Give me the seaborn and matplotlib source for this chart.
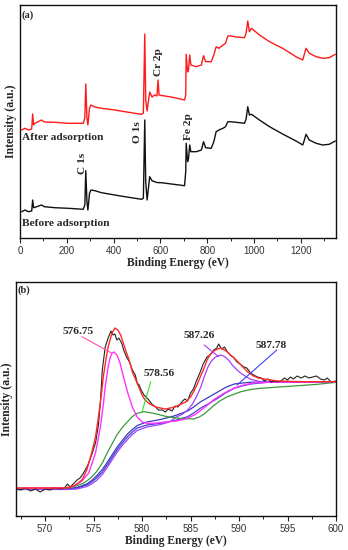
import numpy as np
import pandas as pd
import matplotlib
matplotlib.use("Agg")
import matplotlib.pyplot as plt
from matplotlib.ticker import MultipleLocator
import seaborn as sns

# ---------------- Panel (a): XPS survey ----------------
survey_ev = [7, 21, 36, 50, 54, 58, 64, 92, 104, 149, 206, 270, 277, 281, 286, 290, 297, 303, 320, 348,
             405, 448, 519, 527, 533, 537, 543, 554, 564, 575, 585, 590, 594, 604, 647, 703, 708, 710, 716,
             720, 725, 730, 753, 775, 784, 793, 817, 828, 838, 850, 867, 878, 888, 895, 924, 959, 966, 973,
             980, 989, 1023, 1066, 1122, 1179, 1208, 1215, 1222, 1236, 1265, 1293, 1321, 1347]
# pixel-row readings (converted to intensity below)
after_row = [130, 128.3, 130, 129, 114, 125, 123.3, 120, 122, 122.3, 123.3, 123.3, 118, 84, 118, 125, 108, 105,
             107, 108.3, 110, 111.7, 114.3, 113, 34, 100, 111, 92, 97, 95, 96, 80, 95, 95.5, 97, 100, 95, 54.3,
             72, 70, 55, 65, 66.7, 65, 55.7, 61.7, 61.7, 55, 46.7, 48.3, 45, 43.3, 36, 35.7, 37, 37.7, 33, 21,
             31.7, 28.3, 35, 41.7, 48.3, 56.7, 60, 54, 48.3, 53.3, 56.7, 58.3, 57.7, 54.3]
before_row = [211.7, 210, 211.7, 211, 200, 207.7, 207.3, 205, 206.7, 207.7, 208.3, 209.3, 205, 170.7, 201.7,
              210, 193.3, 190, 190.7, 192.7, 195, 196.7, 199.3, 198.3, 120, 181.7, 200, 176.7, 180.7, 181.7,
              182.5, 182.5, 182.7, 182.7, 184, 185.7, 171.7, 143.3, 161.7, 158.3, 145, 151.7, 151.7, 150,
              141.7, 147.7, 148.3, 141.7, 131.7, 130, 128.3, 126.7, 121.7, 121.7, 122.3, 123.3, 119, 106.7,
              115, 114.3, 120, 126.7, 134, 141, 145, 140, 134.3, 140, 143.3, 145, 144.3, 141]
after_int = [238 - v for v in after_row]
before_int = [238 - v for v in before_row]

survey_labels = ["C 1s", "O 1s", "Cr 2p", "Fe 2p"]
survey_label_ev = [265, 500, 593, 721]
survey_label_int = [74.7, 106, 176, 111]

# ---------------- Panel (b): Cr 2p high resolution ----------------
raw_ev = [567.0, 567.5, 568.0, 568.5, 569.0, 569.5, 570.0, 570.5, 571.0, 571.5, 572.0, 572.3, 572.6, 573.0,
          573.3, 573.6, 573.9, 574.2, 574.5, 574.8, 575.2, 575.5, 575.7, 575.9, 576.2, 576.5, 576.8, 577.0,
          577.2, 577.4, 577.6, 577.9, 578.1, 578.4, 578.7, 579.0, 579.3, 579.5, 579.7, 579.9, 580.2, 580.5,
          580.7, 581.0, 581.4, 581.7, 582.1, 582.4, 582.7, 583.1, 583.4, 583.7, 584.1, 584.4, 584.7, 585.0,
          585.3, 585.6, 586.0, 586.3, 586.7, 587.0, 587.4, 587.7, 587.9, 588.2, 588.5, 588.8, 589.1, 589.4,
          589.8, 590.1, 590.5, 590.8, 591.2, 591.5, 591.9, 592.3, 592.6, 593.0, 593.3, 593.7, 594.0, 594.3,
          594.7, 595.0, 595.3, 595.6, 596.0, 596.4, 596.8, 597.2, 597.6, 598.0, 598.4, 598.8, 599.1, 599.5,
          600.0]
raw_row = [489, 490, 488, 491, 489, 492, 489, 490, 488, 489, 488, 484, 487, 483, 480, 478, 474, 469, 463, 455,
           443, 425, 403, 370, 347, 338, 331, 335, 334, 340, 338, 343, 350, 357, 362, 370, 375, 383, 385, 390,
           395, 398, 400, 404, 407, 410, 410, 412, 409, 411, 406, 407, 402, 399, 401, 393, 389, 381, 372, 364,
           357, 355, 350, 348, 344, 349, 347, 352, 355, 357, 362, 364, 367, 368, 373, 375, 377, 378, 381, 379,
           382, 381, 382, 381, 378, 380, 377, 379, 376, 378, 376, 378, 377, 376, 379, 380, 378, 382, 381]

env_ev = [567, 572.1, 573.0, 573.8, 574.3, 574.8, 575.2, 575.5, 575.8, 576.0, 576.3, 576.5, 576.9, 577.2,
          577.5, 577.8, 578.0, 578.3, 578.7, 579.0, 579.4, 579.7, 580.0, 580.3, 580.8, 581.4, 582.4, 583.4,
          584.5, 585.0, 585.3, 585.7, 586.0, 586.4, 586.7, 587.0, 587.4, 587.8, 588.1, 588.5, 588.8, 589.2,
          589.5, 589.9, 590.2, 590.6, 590.9, 591.5, 592.0, 592.6, 593.3, 594.0, 596.4, 600]
env_row = [488, 488, 486, 480, 470, 453, 437, 417, 395, 377, 358, 347, 333, 328, 330, 335, 341, 350, 361, 372,
           381, 388, 395, 400, 404, 407, 409, 407, 402, 397, 392, 384, 377, 368, 360, 355, 351, 349, 348, 350,
           352, 356, 358, 362, 365, 369, 372, 376, 378, 379, 380, 381, 381.7, 381.7]

p1_ev = [567, 572.1, 573.0, 573.8, 574.5, 575.2, 575.7, 576.0, 576.2, 576.5, 576.7, 576.9, 577.1, 577.4,
         577.7, 577.9, 578.2, 578.5, 578.8, 579.0, 579.5, 580.0, 580.7, 581.5, 582.4, 583.5, 584.5, 585.5,
         586.5, 587.5, 588.5, 589.5, 590.5, 591.5, 593, 596, 600]
p1_row = [488, 488, 486, 481, 473, 453, 427, 405, 387, 367, 358, 353, 352, 355, 362, 370, 381, 392, 401, 407,
          417, 422, 423.5, 423, 422, 421, 419, 414.5, 407, 399, 393, 388, 385, 383, 382.3, 381.8, 381.7]

p2_ev = [567, 572.2, 573.2, 574.0, 574.7, 575.3, 575.9, 576.4, 576.9, 577.4, 578.0, 578.5, 579.0, 579.5,
         580.2, 581.2, 582.6, 584.0, 585.3, 585.9, 586.4, 587.0, 587.4, 588.1, 588.8, 590.2, 591.2, 592.2,
         594.6, 596.4, 598.1, 600]
p2_row = [488.5, 488.3, 486, 483, 478, 471.7, 463, 453, 444, 435, 427, 421.7, 416.5, 413.3, 411.7, 413.3,
          416.7, 418.5, 419, 417, 414, 409, 405.5, 400.5, 396.7, 391.7, 389.5, 388.3, 386.7, 385.5, 384.3,
          382.3]

bg_ev = [567, 572.2, 573.3, 574.3, 574.8, 575.3, 575.9, 576.4, 576.9, 577.4, 578.0, 578.5, 579.0, 579.5,
         580.5, 581.9, 583.3, 584.7, 585.4, 586.0, 586.9, 587.8, 588.6, 589.5, 590.4, 591.2, 592.9, 596.4, 600]
p4_row = [489, 489, 487.5, 484, 480.5, 476, 469.5, 462.5, 455, 447.5, 440, 434, 429.5, 425.5, 422, 419.5,
          416, 411, 406.5, 402, 397, 392, 387.5, 384, 383, 382.3, 381.7, 381.7, 381.7]
bgm_row = [489, 489, 488, 485, 482, 478, 472, 465, 457.5, 450, 442.5, 436.7, 432, 428, 425, 423.3, 420.7,
           416.7, 412.5, 408.3, 403.5, 398.3, 393, 388.3, 385.8, 384, 382.3, 381.7, 381.7]

p3_ev = [567, 572.2, 573.3, 574.3, 574.8, 575.3, 575.9, 576.4, 576.9, 577.4, 578.0, 578.5, 579.0, 579.5,
         580.5, 581.9, 582.8, 583.6, 584.2, 584.7, 585.2, 585.7, 586.1, 586.4, 586.8, 587.1, 587.5, 587.8,
         588.1, 588.4, 588.7, 589.0, 589.3, 589.8, 590.2, 590.7, 591.2, 592.2, 593.6, 596.4, 600]
p3_row = [489.5, 489.5, 489, 486.5, 484, 480.5, 474.5, 467.5, 460, 452.5, 445, 439.5, 434.5, 430.5, 427,
          424.5, 422, 416.7, 414, 410, 404, 395, 386, 377, 367, 361.7, 357.5, 356, 355, 356, 358, 361, 365,
          370, 373.3, 376.5, 379.3, 381.7, 382.3, 382.3, 381.7]

peak_labels = ["576.75", "578.56", "587.26", "587.78"]
peak_label_ev = [573.4, 581.8, 585.9, 593.3]
peak_label_int = [184, 143, 180, 170]
leader_ev = [(573.8, 576.9), (580.9, 580.0), (586.4, 587.9), (593.9, 589.8)]
leader_int = [(179.3, 162.7), (134.3, 104.3), (171, 159.3), (166, 131)]


def to_int_b(rows):
    return [516 - v for v in rows]


sns.set_theme(style="white")
plt.rcParams["font.family"] = ["Liberation Sans", "DejaVu Sans"]

fig = plt.figure(figsize=(3.48, 5.5), dpi=100)
ax1 = fig.add_axes([20 / 348, 1 - 238 / 550, 316 / 348, 233 / 550])
ax2 = fig.add_axes([16 / 348, 1 - 516 / 550, 320 / 348, 234 / 550])

serif_bold = dict(family=["Liberation Serif", "DejaVu Serif"], weight="bold")

# ---- panel a
sns.lineplot(x=survey_ev, y=after_int, ax=ax1, color="#ff1a1a", lw=1.0, sort=False, estimator=None)
sns.lineplot(x=survey_ev, y=before_int, ax=ax1, color="#111111", lw=1.0, sort=False, estimator=None)
ax1.set_xlim(0, 1350)
ax1.set_ylim(0, 233)
ax1.xaxis.set_major_locator(MultipleLocator(200))
ax1.xaxis.set_minor_locator(MultipleLocator(100))
ax1.text(5, 222.5, "(a)", fontsize=7.5, ha="left", va="center", **serif_bold)
ax1.text(8, 100, "After adsorption", fontsize=8.2, ha="left", va="center", **serif_bold)
ax1.text(8, 14, "Before adsorption", fontsize=8.2, ha="left", va="center", **serif_bold)
for lab, xe, yi in zip(survey_labels, survey_label_ev, survey_label_int):
    ax1.text(xe, yi, lab, fontsize=8.2, rotation=90, ha="center", va="center", **serif_bold)

# ---- panel b
sns.lineplot(x=bg_ev, y=to_int_b(bgm_row), ax=ax2, color="#4a3fd0", lw=0.9, sort=False, estimator=None)
sns.lineplot(x=bg_ev, y=to_int_b(p4_row), ax=ax2, color="#3b3bbf", lw=0.9, sort=False, estimator=None)
sns.lineplot(x=p3_ev, y=to_int_b(p3_row), ax=ax2, color="#a040ff", lw=0.9, sort=False, estimator=None)
sns.lineplot(x=p2_ev, y=to_int_b(p2_row), ax=ax2, color="#3a9a3a", lw=0.9, sort=False, estimator=None)
sns.lineplot(x=p1_ev, y=to_int_b(p1_row), ax=ax2, color="#ff33ff", lw=1.0, sort=False, estimator=None)
sns.lineplot(x=raw_ev, y=to_int_b(raw_row), ax=ax2, color="#222222", lw=0.8, sort=False, estimator=None)
sns.lineplot(x=env_ev, y=to_int_b(env_row), ax=ax2, color="#ff2a2a", lw=1.0, sort=False, estimator=None)
ax2.set_xlim(567, 600)
ax2.set_ylim(0, 234)
ax2.xaxis.set_major_locator(MultipleLocator(5))
ax2.xaxis.set_minor_locator(MultipleLocator(2.5))
ax2.text(567.15, 226, "(b)", fontsize=7.5, ha="left", va="center", **serif_bold)
leader_colors = ["#ff4fa8", "#33dd33", "#a040ff", "#4040ff"]
for lab, xe, yi, lx, ly, c in zip(peak_labels, peak_label_ev, peak_label_int, leader_ev, leader_int, leader_colors):
    ax2.text(xe, yi, lab, fontsize=8.2, ha="center", va="center", **serif_bold)
    ax2.plot(lx, ly, color=c, lw=0.8)

for ax in (ax1, ax2):
    ax.set_xlabel("Binding Energy (eV)", fontsize=8.3, labelpad=1, **serif_bold)
    ax.set_ylabel("Intensity (a.u.)", fontsize=8.5, labelpad=2, **serif_bold)
    ax.set_yticks([])
    ax.tick_params(axis="x", which="major", direction="out", length=3.5, width=0.8, pad=2,
                   labelsize=7, labelcolor="#333333", bottom=True, top=False, color="#222222")
    ax.tick_params(axis="x", which="minor", direction="out", length=2, width=0.7, bottom=True, top=False,
                   color="#222222")
    for s in ax.spines.values():
        s.set_visible(True)
        s.set_color("#111111")
        s.set_linewidth(1.0)

fig.savefig("out.png", dpi=100)
